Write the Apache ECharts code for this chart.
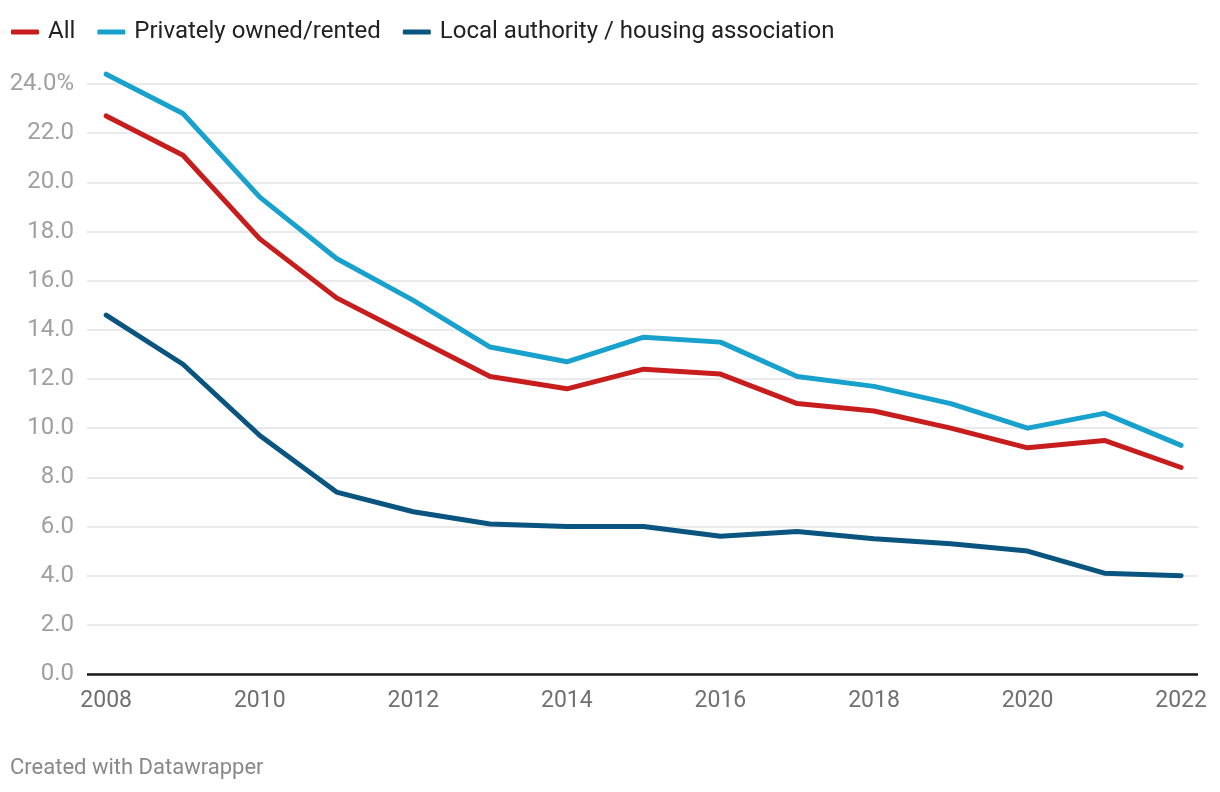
<!DOCTYPE html>
<html><head><meta charset="utf-8">
<script src="https://cdn.jsdelivr.net/npm/echarts@6/dist/echarts.min.js"></script>
<style>html,body{margin:0;padding:0;background:#fff}#c{width:1220px;height:792px}</style>
</head><body><div id="c"></div>
<script>
const years = [2008,2009,2010,2011,2012,2013,2014,2015,2016,2017,2018,2019,2020,2021,2022];
const allVals = [22.7,21.1,17.7,15.3,13.7,12.1,11.6,12.4,12.2,11.0,10.7,10.0,9.2,9.5,8.4];
const privVals = [24.4,22.8,19.4,16.9,15.2,13.3,12.7,13.7,13.5,12.1,11.7,11.0,10.0,10.6,9.3];
const localVals = [14.6,12.6,9.7,7.4,6.6,6.1,6.0,6.0,5.6,5.8,5.5,5.3,5.0,4.1,4.0];
const xTickLabels = [2008,2010,2012,2014,2016,2018,2020,2022];
const seriesNames = ['All','Privately owned/rented','Local authority / housing association'];
const colors = ['#c71e1d','#18a1cd','#09557f'];
const font = 'Roboto';
const pair = v => years.map((y,i)=>[y,v[i]]);
const chart = echarts.init(document.getElementById('c'));
chart.setOption({
  animation:false,
  textStyle:{fontFamily:font},
  legend:{left:6,top:15,itemWidth:28,itemHeight:5,itemGap:22,icon:'roundRect',
    textStyle:{fontSize:24,color:'#222',fontFamily:font,padding:[0,0,0,4]},
    data:seriesNames},
  graphic:[{type:'text',left:10,top:757,style:{text:'Created with Datawrapper',fontSize:22,fill:'#888',fontFamily:font}}],
  grid:{left:87,right:22,top:84,bottom:118},
  xAxis:{type:'value',min:2007.75,max:2022.22,
    axisLine:{show:false},axisTick:{show:false},splitLine:{show:false},
    axisLabel:{customValues:xTickLabels,fontSize:23,color:'#707070',margin:16,fontFamily:font,formatter:v=>String(v)}},
  yAxis:{type:'value',min:0,max:24,interval:2,
    axisLine:{show:false},axisTick:{show:false},
    splitLine:{lineStyle:{color:'#e3e3e3',width:1.5}},
    axisLabel:{fontSize:24,color:'#a0a0a0',margin:13,fontFamily:font,
      formatter:v=> v===24 ? v.toFixed(1)+'%' : v.toFixed(1)}},
  series:[
    {name:seriesNames[0],type:'line',data:pair(allVals),symbol:'none',clip:false,lineStyle:{width:5,color:colors[0],cap:'round',join:'round'},itemStyle:{color:colors[0]},z:4},
    {name:seriesNames[1],type:'line',data:pair(privVals),symbol:'none',clip:false,lineStyle:{width:5,color:colors[1],cap:'round',join:'round'},itemStyle:{color:colors[1]},z:3},
    {name:seriesNames[2],type:'line',data:pair(localVals),symbol:'none',clip:false,lineStyle:{width:5,color:colors[2],cap:'round',join:'round'},itemStyle:{color:colors[2]},z:3,
      markLine:{silent:true,symbol:'none',label:{show:false},lineStyle:{color:'#1a1a1a',width:2.5,type:'solid'},data:[{yAxis:0}]}}
  ]
});
</script></body></html>
